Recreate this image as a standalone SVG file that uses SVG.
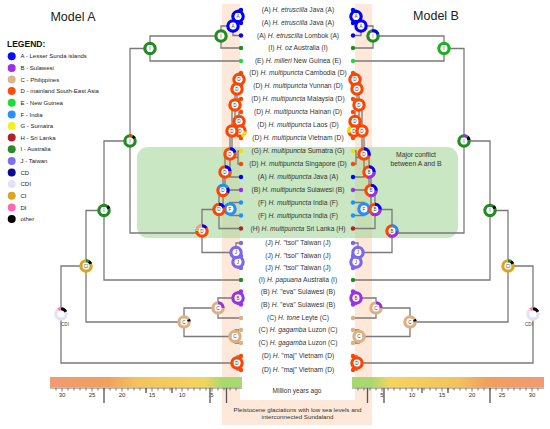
<svg xmlns="http://www.w3.org/2000/svg" width="550" height="429" viewBox="0 0 550 429">
<style>
.ln{fill:none;stroke:#7a7a7a;stroke-width:1.3}
.r{fill:none;stroke-width:3.3}
.w{fill:#fff}
.nl{font-family:"Liberation Sans",Arial,sans-serif;font-size:4.6px;text-anchor:middle;fill:#444}
.tl{font-family:"Liberation Sans",Arial,sans-serif;font-size:6.7px;text-anchor:middle;fill:#333}
.lg{font-family:"Liberation Sans",Arial,sans-serif;font-size:6px;fill:#222}
.ax{font-family:"Liberation Sans",Arial,sans-serif;font-size:6px;text-anchor:middle;fill:#333}
.tk{stroke:#555;stroke-width:0.8}
.tkl{stroke:#555;stroke-width:1.3}
</style>
<defs>
<linearGradient id="gL" x1="0" x2="1" y1="0" y2="0">
<stop offset="0" stop-color="#f29a72"/><stop offset="0.3" stop-color="#f0a05e"/><stop offset="0.45" stop-color="#f3c25e"/><stop offset="0.8" stop-color="#f5d45e"/><stop offset="0.9" stop-color="#a8d870"/><stop offset="1" stop-color="#a8d870"/>
</linearGradient>
<linearGradient id="gR" x1="1" x2="0" y1="0" y2="0">
<stop offset="0" stop-color="#f29a72"/><stop offset="0.3" stop-color="#f0a05e"/><stop offset="0.45" stop-color="#f3c25e"/><stop offset="0.8" stop-color="#f5d45e"/><stop offset="0.9" stop-color="#a8d870"/><stop offset="1" stop-color="#a8d870"/>
</linearGradient>
</defs>
<rect width="550" height="429" fill="#fff"/>
<!-- Pleistocene band -->
<rect x="222" y="4" width="150" height="421" fill="#fde8da"/>
<rect x="240" y="4" width="115" height="396" fill="#fff"/>
<!-- conflict box -->
<rect x="137" y="147" width="321" height="91" rx="11" fill="#9dd391" fill-opacity="0.55"/>
<text x="416" y="156.5" class="tl" style="font-size:6.8px">Major conflict</text>
<text x="416" y="165.5" class="tl" style="font-size:6.8px">between A and B</text>
<!-- titles -->
<text x="73" y="21" font-family="Liberation Sans, Arial, sans-serif" font-size="12.5" text-anchor="middle" fill="#222">Model A</text>
<text x="436" y="20" font-family="Liberation Sans, Arial, sans-serif" font-size="12.5" text-anchor="middle" fill="#222">Model B</text>
<!-- legend -->
<g id="legend">
<text x="7" y="47" font-family="Liberation Sans, Arial, sans-serif" font-size="8.5" font-weight="bold" fill="#111">LEGEND:</text>
<circle cx="11.7" cy="56.3" r="4" fill="#0a0aff"/><text x="20.5" y="58.4" class="lg">A - Lesser Sunda islands</text>
<circle cx="11.7" cy="67.9" r="4" fill="#9b30e6"/><text x="20.5" y="70" class="lg">B - Sulawesi</text>
<circle cx="11.7" cy="79.5" r="4" fill="#dbb68c"/><text x="20.5" y="81.6" class="lg">C - Philippines</text>
<circle cx="11.7" cy="91.1" r="4" fill="#ff4a10"/><text x="20.5" y="93.2" class="lg">D - mainland South-East Asia</text>
<circle cx="11.7" cy="102.8" r="4" fill="#1ddd3a"/><text x="20.5" y="104.9" class="lg">E - New Guinea</text>
<circle cx="11.7" cy="114.4" r="4" fill="#2a90ff"/><text x="20.5" y="116.5" class="lg">F - India</text>
<circle cx="11.7" cy="126" r="4" fill="#f5f020"/><text x="20.5" y="128.1" class="lg">G - Sumatra</text>
<circle cx="11.7" cy="137.6" r="4" fill="#b0222a"/><text x="20.5" y="139.7" class="lg">H - Sri Lanka</text>
<circle cx="11.7" cy="149.3" r="4" fill="#2a8a2a"/><text x="20.5" y="151.4" class="lg">I - Australia</text>
<circle cx="11.7" cy="160.9" r="4" fill="#8070f0"/><text x="20.5" y="163" class="lg">J - Taiwan</text>
<circle cx="11.7" cy="172.5" r="4" fill="#0a0a90"/><text x="20.5" y="174.6" class="lg">CD</text>
<circle cx="11.7" cy="184.1" r="4" fill="#e2e2f6"/><text x="20.5" y="186.2" class="lg">CDI</text>
<circle cx="11.7" cy="195.8" r="4" fill="#daa520"/><text x="20.5" y="197.9" class="lg">CI</text>
<circle cx="11.7" cy="207.4" r="4" fill="#ff69b4"/><text x="20.5" y="209.5" class="lg">DI</text>
<circle cx="11.7" cy="219" r="4" fill="#000"/><text x="20.5" y="221.1" class="lg">other</text>
</g>
<!-- connectors -->
<g id="connectors">
<path id="treeA" class="ln" d="M241,10H238V23H241M238,16.5H233V35.5H241M233,26H221V48H241M221,36H150V61H241M150,48.5H130V233H202
M241,73H239V86H241M239,79.5H237V99H241M241,124.5H240V138H241M241,112H239V131H240M237,89H235V121.5H239M241,151H238V164H241M235,105H232V157.5H238M232,131H230V177H241M230,154H225V190H241M241,202.5H230V215.5H241M225,172H223V209H230M223,190.5H219V228.5H241
M241,256H238V268H241M241,243H236V262H238M219,209.5H202V252.5H236
M130,141H104V280H241M241,291.5H238V304.5H241M238,298H218V318H241M241,330H235V343H241M218,308H184V336.5H235M104,210.5H86V322H184M241,356H237V370H241M86,266H61V363H237"/>
<path id="treeB" class="ln" transform="matrix(-1,0,0,1,594,0)" d="M241,10H238V23H241M238,16.5H233V35.5H241M233,26H221V48H241M221,36H150V61H241M150,48.5H130V233H202
M241,73H239V86H241M239,79.5H237V99H241M241,124.5H240V138H241M241,112H239V131H240M237,89H235V121.5H239M241,151H238V164H241M235,105H232V157.5H238M232,131H230V177H241M230,154H225V190H241M241,202.5H230V215.5H241M225,172H223V209H230M223,190.5H219V228.5H241
M241,256H238V268H241M241,243H236V262H238M219,209.5H202V252.5H236
M130,141H104V280H241M241,291.5H238V304.5H241M238,298H218V318H241M241,330H235V343H241M218,308H184V336.5H235M104,210.5H86V322H184M241,356H237V370H241M86,266H61V363H237"/>
</g>
<!-- tip dots -->
<g id="tips">
<g fill="#0000ff"><circle cx="241" cy="10" r="2.2"/><circle cx="241" cy="23" r="2.2"/><circle cx="241" cy="35.5" r="2.2"/><circle cx="241" cy="177" r="2.2"/><circle cx="353" cy="10" r="2.2"/><circle cx="353" cy="23" r="2.2"/><circle cx="353" cy="35.5" r="2.2"/><circle cx="353" cy="177" r="2.2"/></g>
<g fill="#228b22"><circle cx="241" cy="48" r="2.2"/><circle cx="241" cy="280" r="2.2"/><circle cx="353" cy="48" r="2.2"/><circle cx="353" cy="280" r="2.2"/></g>
<g fill="#1ddd3a"><circle cx="241" cy="61" r="2.2"/><circle cx="353" cy="61" r="2.2"/></g>
<g fill="#ff4500"><circle cx="241" cy="73" r="2.2"/><circle cx="241" cy="86" r="2.2"/><circle cx="241" cy="99" r="2.2"/><circle cx="241" cy="112" r="2.2"/><circle cx="241" cy="124.5" r="2.2"/><circle cx="241" cy="138" r="2.2"/><circle cx="241" cy="164" r="2.2"/><circle cx="241" cy="356" r="2.2"/><circle cx="241" cy="370" r="2.2"/>
<circle cx="353" cy="73" r="2.2"/><circle cx="353" cy="86" r="2.2"/><circle cx="353" cy="99" r="2.2"/><circle cx="353" cy="112" r="2.2"/><circle cx="353" cy="124.5" r="2.2"/><circle cx="353" cy="138" r="2.2"/><circle cx="353" cy="164" r="2.2"/><circle cx="353" cy="356" r="2.2"/><circle cx="353" cy="370" r="2.2"/></g>
<g fill="#f0e000"><circle cx="241" cy="151" r="2.2"/><circle cx="353" cy="151" r="2.2"/></g>
<g fill="#9b30e6"><circle cx="241" cy="190" r="2.2"/><circle cx="241" cy="291.5" r="2.2"/><circle cx="241" cy="304.5" r="2.2"/><circle cx="353" cy="190" r="2.2"/><circle cx="353" cy="291.5" r="2.2"/><circle cx="353" cy="304.5" r="2.2"/></g>
<g fill="#1e90ff"><circle cx="241" cy="202.5" r="2.2"/><circle cx="241" cy="215.5" r="2.2"/><circle cx="353" cy="202.5" r="2.2"/><circle cx="353" cy="215.5" r="2.2"/></g>
<g fill="#b22222"><circle cx="241" cy="228.5" r="2.2"/><circle cx="353" cy="228.5" r="2.2"/></g>
<g fill="#7b68ee"><circle cx="241" cy="243" r="2.2"/><circle cx="241" cy="256" r="2.2"/><circle cx="241" cy="268" r="2.2"/><circle cx="353" cy="243" r="2.2"/><circle cx="353" cy="256" r="2.2"/><circle cx="353" cy="268" r="2.2"/></g>
<g fill="#dcb082"><circle cx="241" cy="318" r="2.2"/><circle cx="241" cy="330" r="2.2"/><circle cx="241" cy="343" r="2.2"/><circle cx="353" cy="318" r="2.2"/><circle cx="353" cy="330" r="2.2"/><circle cx="353" cy="343" r="2.2"/></g>
</g>
<!-- Model A nodes -->
<g id="nodesA">
<g id="a1" transform="translate(238,16.5)"><circle class="r" r="5.1" stroke="#00f"/><circle class="w" r="3.4"/><text class="nl" y="1.7">A</text></g>
<g id="a2" transform="translate(233,26)"><circle class="r" r="5.1" stroke="#00f"/><circle class="w" r="3.4"/><text class="nl" y="1.7">A</text></g>
<g id="a3" transform="translate(221,36)"><circle class="r" r="5.1" stroke="#228b22"/><circle class="w" r="3.4"/><text class="nl" y="1.7">I</text></g>
<g id="a4" transform="translate(150,48.5)"><circle class="r" r="5.1" stroke="#228b22"/><circle class="w" r="3.4"/><text class="nl" y="1.7">I</text></g>
<g id="a5" transform="translate(130,141)"><circle class="r" r="5.1" stroke="#228b22"/><circle class="r" r="5.1" stroke="#ff4500" pathLength="100" stroke-dasharray="8 92" transform="rotate(-90)"/><circle class="r" r="5.1" stroke="#000" pathLength="100" stroke-dasharray="8 92" transform="rotate(-60)"/><circle class="w" r="3.4"/><text class="nl" y="1.7">I</text></g>
<g id="a6" transform="translate(239,79.5)"><circle class="r" r="5.1" stroke="#ff4500"/><circle class="w" r="3.4"/><text class="nl" y="1.7">D</text></g>
<g id="a7" transform="translate(237,89)"><circle class="r" r="5.1" stroke="#ff4500"/><circle class="w" r="3.4"/><text class="nl" y="1.7">D</text></g>
<g id="a8" transform="translate(235,105)"><circle class="r" r="5.1" stroke="#ff4500"/><circle class="w" r="3.4"/><text class="nl" y="1.7">D</text></g>
<g id="a9" transform="translate(239,121.5)"><circle class="r" r="5.1" stroke="#ff4500"/><circle class="w" r="3.4"/><text class="nl" y="1.7">D</text></g>
<g id="a10" transform="translate(240,131)"><circle class="r" r="5.1" stroke="#ff4500"/><circle class="r" r="5.1" stroke="#f0e000" pathLength="100" stroke-dasharray="20 80" transform="rotate(0)"/><circle class="w" r="3.4"/><text class="nl" y="1.7">D</text></g>
<g id="a11" transform="translate(232,131)"><circle class="r" r="5.1" stroke="#ff4500"/><circle class="w" r="3.4"/><text class="nl" y="1.7">D</text></g>
<g id="a12" transform="translate(230,154)"><circle class="r" r="5.1" stroke="#ff4500"/><circle class="r" r="5.1" stroke="#00f" pathLength="100" stroke-dasharray="20 80" transform="rotate(-90)"/><circle class="w" r="3.4"/><text class="nl" y="1.7">D</text></g>
<g id="a13" transform="translate(225,172)"><circle class="r" r="5.1" stroke="#ff4500"/><circle class="r" r="5.1" stroke="#00f" pathLength="100" stroke-dasharray="22 78" transform="rotate(-90)"/><circle class="w" r="3.4"/><text class="nl" y="1.7">D</text></g>
<g id="a14" transform="translate(223,190.5)"><circle class="r" r="5.1" stroke="#ff4500"/><circle class="r" r="5.1" stroke="#1e90ff" pathLength="100" stroke-dasharray="35 65" transform="rotate(-150)"/><circle class="r" r="5.1" stroke="#00f" pathLength="100" stroke-dasharray="15 85" transform="rotate(-30)"/><circle class="w" r="3.4"/><text class="nl" y="1.7">D</text></g>
<g id="a15" transform="translate(230,209)"><circle class="r" r="5.1" stroke="#1e90ff"/><circle class="w" r="3.4"/><text class="nl" y="1.7">F</text></g>
<g id="a16" transform="translate(219,209.5)"><circle class="r" r="5.1" stroke="#ff4500"/><circle class="r" r="5.1" stroke="#00f" pathLength="100" stroke-dasharray="18 82" transform="rotate(-90)"/><circle class="w" r="3.4"/><text class="nl" y="1.7">D</text></g>
<g id="a17" transform="translate(202,231)"><circle class="r" r="5.1" stroke="#ff4500"/><circle class="r" r="5.1" stroke="#dcb082" pathLength="100" stroke-dasharray="25 75" transform="rotate(-180)"/><circle class="r" r="5.1" stroke="#00f" pathLength="100" stroke-dasharray="15 85" transform="rotate(-90)"/><circle class="w" r="3.4"/><text class="nl" y="1.7">D</text></g>
<g id="a18" transform="translate(238,262)"><circle class="r" r="5.1" stroke="#7b68ee"/><circle class="w" r="3.4"/><text class="nl" y="1.7">J</text></g>
<g id="a19" transform="translate(236,252.5)"><circle class="r" r="5.1" stroke="#7b68ee"/><circle class="w" r="3.4"/><text class="nl" y="1.7">J</text></g>
<g id="a20" transform="translate(104,210.5)"><circle class="r" r="5.1" stroke="#228b22"/><circle class="r" r="5.1" stroke="#000" pathLength="100" stroke-dasharray="8 92" transform="rotate(-50)"/><circle class="w" r="3.4"/><text class="nl" y="1.7">I</text></g>
<g id="a21" transform="translate(238,298)"><circle class="r" r="5.1" stroke="#9b30e6"/><circle class="w" r="3.4"/><text class="nl" y="1.7">B</text></g>
<g id="a22" transform="translate(218,308)"><circle class="r" r="5.1" stroke="#dcb082"/><circle class="r" r="5.1" stroke="#9b30e6" pathLength="100" stroke-dasharray="25 75" transform="rotate(-90)"/><circle class="w" r="3.4"/><text class="nl" y="1.7">C</text></g>
<g id="a23" transform="translate(235,336.5)"><circle class="r" r="5.1" stroke="#dcb082"/><circle class="w" r="3.4"/><text class="nl" y="1.7">C</text></g>
<g id="a24" transform="translate(184,322)"><circle class="r" r="5.1" stroke="#dcb082"/><circle class="r" r="5.1" stroke="#000" pathLength="100" stroke-dasharray="7 93" transform="rotate(-30)"/><circle class="w" r="3.4"/><text class="nl" y="1.7">C</text></g>
<g id="a25" transform="translate(86,266)"><circle class="r" r="5.1" stroke="#daa520"/><circle class="r" r="5.1" stroke="#228b22" pathLength="100" stroke-dasharray="8 92" transform="rotate(-90)"/><circle class="r" r="5.1" stroke="#000" pathLength="100" stroke-dasharray="10 90" transform="rotate(-60)"/><circle class="w" r="3.4"/><text class="nl" y="1.7">CI</text></g>
<g id="a26" transform="translate(237,363)"><circle class="r" r="5.1" stroke="#ff4500"/><circle class="w" r="3.4"/><text class="nl" y="1.7">D</text></g>
<g id="a27" transform="translate(61,314)"><circle class="r" r="5.1" stroke="#e2e2f6"/><circle class="r" r="5.1" stroke="#ff69b4" pathLength="100" stroke-dasharray="8 92" transform="rotate(-120)"/><circle class="r" r="5.1" stroke="#000" pathLength="100" stroke-dasharray="18 82" transform="rotate(-90)"/><circle class="w" r="3.4"/><text class="nl" x="4" y="12">CDI</text></g>
</g>
<!-- Model B nodes -->
<g id="nodesB">
<g id="b1" transform="translate(356,16.5)"><circle class="r" r="5.1" stroke="#00f"/><circle class="w" r="3.4"/><text class="nl" y="1.7">A</text></g>
<g id="b2" transform="translate(361,26)"><circle class="r" r="5.1" stroke="#00f"/><circle class="w" r="3.4"/><text class="nl" y="1.7">A</text></g>
<g id="b3" transform="translate(373,36)"><circle class="r" r="5.1" stroke="#228b22"/><circle class="r" r="5.1" stroke="#00f" pathLength="100" stroke-dasharray="22 78" transform="rotate(-100)"/><circle class="w" r="3.4"/><text class="nl" y="1.7">I</text></g>
<g id="b4" transform="translate(444,48.5)"><circle class="r" r="5.1" stroke="#22b022"/><circle class="w" r="3.4"/><text class="nl" y="1.7">I</text></g>
<g id="b5" transform="translate(464,141)"><circle class="r" r="5.1" stroke="#228b22"/><circle class="r" r="5.1" stroke="#9b30e6" pathLength="100" stroke-dasharray="12 88" transform="rotate(-90)"/><circle class="r" r="5.1" stroke="#000" pathLength="100" stroke-dasharray="10 90" transform="rotate(-47)"/><circle class="w" r="3.4"/><text class="nl" y="1.7">I</text></g>
<g id="b6" transform="translate(355,79.5)"><circle class="r" r="5.1" stroke="#ff4500"/><circle class="w" r="3.4"/><text class="nl" y="1.7">D</text></g>
<g id="b7" transform="translate(357,89)"><circle class="r" r="5.1" stroke="#ff4500"/><circle class="w" r="3.4"/><text class="nl" y="1.7">D</text></g>
<g id="b8" transform="translate(359,105)"><circle class="r" r="5.1" stroke="#ff4500"/><circle class="w" r="3.4"/><text class="nl" y="1.7">D</text></g>
<g id="b9" transform="translate(355,121.5)"><circle class="r" r="5.1" stroke="#ff4500"/><circle class="w" r="3.4"/><text class="nl" y="1.7">D</text></g>
<g id="b10" transform="translate(354,131)"><circle class="r" r="5.1" stroke="#ff4500"/><circle class="r" r="5.1" stroke="#f0e000" pathLength="100" stroke-dasharray="20 80" transform="rotate(160)"/><circle class="w" r="3.4"/><text class="nl" y="1.7">D</text></g>
<g id="b11" transform="translate(362,131)"><circle class="r" r="5.1" stroke="#ff4500"/><circle class="w" r="3.4"/><text class="nl" y="1.7">D</text></g>
<g id="b12" transform="translate(364,154)"><circle class="r" r="5.1" stroke="#ff4500"/><circle class="r" r="5.1" stroke="#00f" pathLength="100" stroke-dasharray="30 70" transform="rotate(-90)"/><circle class="w" r="3.4"/><text class="nl" y="1.7">D</text></g>
<g id="b13" transform="translate(369,172)"><circle class="r" r="5.1" stroke="#ff4500"/><circle class="r" r="5.1" stroke="#9b30e6" pathLength="100" stroke-dasharray="30 70" transform="rotate(0)"/><circle class="r" r="5.1" stroke="#00f" pathLength="100" stroke-dasharray="25 75" transform="rotate(-90)"/><circle class="w" r="3.4"/><text class="nl" y="1.7">B</text></g>
<g id="b14" transform="translate(371,190.5)"><circle class="r" r="5.1" stroke="#ff4500"/><circle class="r" r="5.1" stroke="#9b30e6" pathLength="100" stroke-dasharray="30 70" transform="rotate(0)"/><circle class="r" r="5.1" stroke="#00f" pathLength="100" stroke-dasharray="25 75" transform="rotate(-90)"/><circle class="w" r="3.4"/><text class="nl" y="1.7">B</text></g>
<g id="b15" transform="translate(364,209)"><circle class="r" r="5.1" stroke="#1e90ff"/><circle class="w" r="3.4"/><text class="nl" y="1.7">F</text></g>
<g id="b16" transform="translate(375,209.5)"><circle class="r" r="5.1" stroke="#ff4500"/><circle class="r" r="5.1" stroke="#9b30e6" pathLength="100" stroke-dasharray="35 65" transform="rotate(0)"/><circle class="r" r="5.1" stroke="#00f" pathLength="100" stroke-dasharray="25 75" transform="rotate(-90)"/><circle class="w" r="3.4"/><text class="nl" y="1.7">B</text></g>
<g id="b17" transform="translate(392,231)"><circle class="r" r="5.1" stroke="#ff4500"/><circle class="r" r="5.1" stroke="#9b30e6" pathLength="100" stroke-dasharray="35 65" transform="rotate(0)"/><circle class="r" r="5.1" stroke="#1e90ff" pathLength="100" stroke-dasharray="25 75" transform="rotate(-90)"/><circle class="w" r="3.4"/><text class="nl" y="1.7">B</text></g>
<g id="b18" transform="translate(356,262)"><circle class="r" r="5.1" stroke="#7b68ee"/><circle class="w" r="3.4"/><text class="nl" y="1.7">J</text></g>
<g id="b19" transform="translate(358,252.5)"><circle class="r" r="5.1" stroke="#7b68ee"/><circle class="w" r="3.4"/><text class="nl" y="1.7">J</text></g>
<g id="b20" transform="translate(490,210.5)"><circle class="r" r="5.1" stroke="#228b22"/><circle class="r" r="5.1" stroke="#000" pathLength="100" stroke-dasharray="8 92" transform="rotate(-50)"/><circle class="w" r="3.4"/><text class="nl" y="1.7">I</text></g>
<g id="b21" transform="translate(356,298)"><circle class="r" r="5.1" stroke="#9b30e6"/><circle class="w" r="3.4"/><text class="nl" y="1.7">B</text></g>
<g id="b22" transform="translate(376,308)"><circle class="r" r="5.1" stroke="#dcb082"/><circle class="r" r="5.1" stroke="#9b30e6" pathLength="100" stroke-dasharray="25 75" transform="rotate(-90)"/><circle class="w" r="3.4"/><text class="nl" y="1.7">C</text></g>
<g id="b23" transform="translate(359,336.5)"><circle class="r" r="5.1" stroke="#dcb082"/><circle class="w" r="3.4"/><text class="nl" y="1.7">C</text></g>
<g id="b24" transform="translate(410,322)"><circle class="r" r="5.1" stroke="#dcb082"/><circle class="r" r="5.1" stroke="#000" pathLength="100" stroke-dasharray="7 93" transform="rotate(-30)"/><circle class="w" r="3.4"/><text class="nl" y="1.7">C</text></g>
<g id="b25" transform="translate(508,266)"><circle class="r" r="5.1" stroke="#daa520"/><circle class="r" r="5.1" stroke="#228b22" pathLength="100" stroke-dasharray="8 92" transform="rotate(-90)"/><circle class="r" r="5.1" stroke="#000" pathLength="100" stroke-dasharray="10 90" transform="rotate(-60)"/><circle class="w" r="3.4"/><text class="nl" y="1.7">CI</text></g>
<g id="b26" transform="translate(357,363)"><circle class="r" r="5.1" stroke="#ff4500"/><circle class="w" r="3.4"/><text class="nl" y="1.7">D</text></g>
<g id="b27" transform="translate(533,314)"><circle class="r" r="5.1" stroke="#e2e2f6"/><circle class="r" r="5.1" stroke="#ff69b4" pathLength="100" stroke-dasharray="8 92" transform="rotate(-120)"/><circle class="r" r="5.1" stroke="#000" pathLength="100" stroke-dasharray="18 82" transform="rotate(-90)"/><circle class="w" r="3.4"/><text class="nl" x="-4" y="12">CDI</text></g>
</g>
<!-- tip labels -->
<g id="labels" class="tl">
<text x="298" y="12.4">(A) <tspan font-style="italic">H. etruscilla</tspan> Java (A)</text>
<text x="298" y="25.4">(A) <tspan font-style="italic">H. etruscilla</tspan> Java (A)</text>
<text x="298" y="37.9">(A) <tspan font-style="italic">H. etruscilla</tspan> Lombok (A)</text>
<text x="298" y="50.4">(I) <tspan font-style="italic">H. oz</tspan> Australia (I)</text>
<text x="298" y="63.4">(E) <tspan font-style="italic">H. milleri</tspan> New Guinea (E)</text>
<text x="298" y="75.4">(D) <tspan font-style="italic">H. multipuncta</tspan> Cambodia (D)</text>
<text x="298" y="88.4">(D) <tspan font-style="italic">H. multipuncta</tspan> Yunnan (D)</text>
<text x="298" y="101.4">(D) <tspan font-style="italic">H. multipuncta</tspan> Malaysia (D)</text>
<text x="298" y="114.4">(D) <tspan font-style="italic">H. multipuncta</tspan> Hainan (D)</text>
<text x="298" y="126.9">(D) <tspan font-style="italic">H. multipuncta</tspan> Laos (D)</text>
<text x="298" y="140.4">(D) <tspan font-style="italic">H. multipuncta</tspan> Vietnam (D)</text>
<text x="298" y="153.4">(G) <tspan font-style="italic">H. multipuncta</tspan> Sumatra (G)</text>
<text x="298" y="166.4">(D) <tspan font-style="italic">H. multipuncta</tspan> Singapore (D)</text>
<text x="298" y="179.4">(A) <tspan font-style="italic">H. multipuncta</tspan> Java (A)</text>
<text x="298" y="192.4">(B) <tspan font-style="italic">H. multipuncta</tspan> Sulawesi (B)</text>
<text x="298" y="204.9">(F) <tspan font-style="italic">H. multipuncta</tspan> India (F)</text>
<text x="298" y="217.9">(F) <tspan font-style="italic">H. multipuncta</tspan> India (F)</text>
<text x="298" y="230.9">(H) <tspan font-style="italic">H. multipuncta</tspan> Sri Lanka (H)</text>
<text x="298" y="245.4">(J) <tspan font-style="italic">H.</tspan> "tsoi" Taiwan (J)</text>
<text x="298" y="258.4">(J) <tspan font-style="italic">H.</tspan> "tsoi" Taiwan (J)</text>
<text x="298" y="270.4">(J) <tspan font-style="italic">H.</tspan> "tsoi" Taiwan (J)</text>
<text x="298" y="282.4">(I) <tspan font-style="italic">H. papuana</tspan> Australia (I)</text>
<text x="298" y="293.9">(B) <tspan font-style="italic">H.</tspan> "eva" Sulawesi (B)</text>
<text x="298" y="306.9">(B) <tspan font-style="italic">H.</tspan> "eva" Sulawesi (B)</text>
<text x="298" y="320.4">(C) <tspan font-style="italic">H. tone</tspan> Leyte (C)</text>
<text x="298" y="332.4">(C) <tspan font-style="italic">H. gagamba</tspan> Luzon (C)</text>
<text x="298" y="345.4">(C) <tspan font-style="italic">H. gagamba</tspan> Luzon (C)</text>
<text x="298" y="358.4">(D) <tspan font-style="italic">H.</tspan> "maj" Vietnam (D)</text>
<text x="298" y="372.4">(D) <tspan font-style="italic">H.</tspan> "maj" Vietnam (D)</text>
</g>
<!-- time bars -->
<g id="timescale">
<rect x="50" y="377" width="192" height="10" fill="url(#gL)"/>
<rect x="352" y="377" width="192" height="10" fill="url(#gR)"/>
<path class="tk" d="M50,388H242M352,388H544"/>
<path class="tk" d="M236,388v2.5M230,388v2.5M224,388v2.5M218,388v2.5M212,388v3.5M206,388v2.5M200,388v2.5M194,388v2.5M188,388v2.5M182,388v3.5M176,388v2.5M170,388v2.5M164,388v2.5M158,388v2.5M152,388v3.5M146,388v2.5M140,388v2.5M134,388v2.5M128,388v2.5M122,388v3.5M116,388v2.5M110,388v2.5M104,388v2.5M98,388v2.5M92,388v3.5M86,388v2.5M80,388v2.5M74,388v2.5M68,388v2.5M62,388v3.5M56,388v2.5"/>
<path class="tk" d="M358,388v2.5M364,388v2.5M370,388v2.5M376,388v2.5M382,388v3.5M388,388v2.5M394,388v2.5M400,388v2.5M406,388v2.5M412,388v3.5M418,388v2.5M424,388v2.5M430,388v2.5M436,388v2.5M442,388v3.5M448,388v2.5M454,388v2.5M460,388v2.5M466,388v2.5M472,388v3.5M478,388v2.5M484,388v2.5M490,388v2.5M496,388v2.5M502,388v3.5M508,388v2.5M514,388v2.5M520,388v2.5M526,388v2.5M532,388v3.5M538,388v2.5"/>
<path class="tkl" d="M104,388V403M146,388V393M172,388V393M210,388V403M226.5,388V403M367.5,388V403M384,388V403M422,388V393M448,388V393M490,388V403"/>
<text class="ax" x="62" y="397">30</text><text class="ax" x="92" y="397">25</text><text class="ax" x="122" y="397">20</text><text class="ax" x="152" y="397">15</text><text class="ax" x="182" y="397">10</text><text class="ax" x="212" y="397">5</text>
<text class="ax" x="382" y="397">5</text><text class="ax" x="412" y="397">10</text><text class="ax" x="442" y="397">15</text><text class="ax" x="472" y="397">20</text><text class="ax" x="502" y="397">25</text><text class="ax" x="532" y="397">30</text>
<text class="tl" x="297" y="393.3" style="font-size:6.5px">Million years ago</text>
<text class="tl" x="297.5" y="411.6" style="font-size:6.2px">Pleistocene glaciations with low sea levels and</text>
<text class="tl" x="297.5" y="419.2" style="font-size:6.2px">interconnected Sundaland</text>
</g>
</svg>
